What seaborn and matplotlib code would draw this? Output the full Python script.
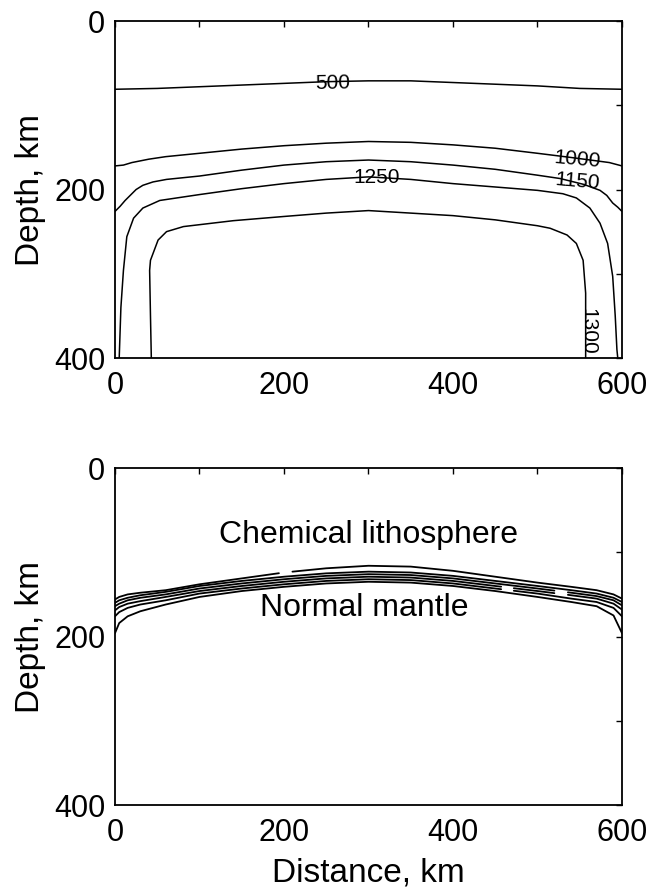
import numpy as np
import pandas as pd
import matplotlib
matplotlib.use("Agg")
import matplotlib.pyplot as plt
import seaborn as sns
from matplotlib.ticker import FuncFormatter

# ---------------- data: top panel (temperature contours, depth in km) -------------
c500_x = [0, 50, 100, 150, 200, 250, 300, 350, 400, 450, 500, 550, 600]
c500_d = [81, 80, 78, 76, 74, 72, 71, 71, 73, 75, 77, 80, 81]

c1000_x = [0, 10, 20, 40, 60, 100, 150, 200, 250, 300, 350, 400, 450, 500, 540, 570, 585, 600]
c1000_d = [172, 171, 168, 164, 161, 157, 152, 148, 145, 143, 144, 147, 151, 157, 162, 166, 168, 172]

c1150_x = [0, 6, 12, 18, 25, 33, 45, 61, 100, 150, 200, 250, 300, 350, 400, 450, 500, 527, 555, 574, 582, 589, 595, 600]
c1150_d = [226, 220, 213, 207, 200, 195, 191, 188, 184, 177, 171, 167, 165, 167, 171, 176, 183, 187, 194, 201, 207, 216, 221, 226]

c1250_x = [5, 7, 10, 14, 22, 33, 53, 100, 150, 200, 250, 300, 350, 400, 450, 500, 530, 546, 562, 574, 583, 589, 592, 594, 595]
c1250_d = [400, 340, 296, 256, 234, 222, 213, 206, 199, 193, 188, 185, 188, 193, 197, 201, 205, 210, 222, 240, 264, 303, 350, 390, 400]

c1300_x = [43, 42, 41, 42, 45, 51, 61, 81, 140, 200, 250, 300, 350, 400, 450, 500, 515, 535, 546, 554, 557, 557, 557]
c1300_d = [400, 350, 296, 284, 276, 260, 250, 244, 237, 232, 228, 225, 228, 231, 236, 243, 246, 254, 264, 284, 323, 360, 400]

top_levels = ["500", "1000", "1150", "1250", "1300"]

# ---------------- data: bottom panel (composition contours) -----------------------
comp_x = [0, 5, 15, 30, 60, 100, 150, 200, 250, 300, 350, 400, 450, 500, 540, 570, 590, 600]
comp_1 = [156, 153, 150, 148, 145, 138, 131, 124, 119, 116, 117, 122, 129, 136, 141, 145, 150, 155]
comp_2 = [160, 157, 154, 151, 147, 140, 134, 129, 125, 123, 124, 128, 134, 140, 145, 149, 154, 159]
comp_3 = [164, 161, 157, 154, 150, 143, 137, 132, 128, 126, 127, 131, 137, 143, 148, 152, 157, 163]
comp_4 = [169, 165, 161, 158, 153, 146, 140, 135, 131, 129, 130, 134, 140, 146, 151, 155, 161, 168]
comp_5 = [176, 171, 166, 162, 157, 149, 143, 138, 134, 132, 133, 137, 143, 149, 155, 159, 166, 176]
comp_6 = [196, 184, 176, 170, 162, 153, 146, 141, 137, 135, 136, 140, 146, 153, 159, 164, 175, 196]

# gaps left in the composition contours where labels were removed: (line, x from, x to)
gap_line = [0, 3, 4, 2, 3]
gap_from = [194, 457, 457, 520, 520]
gap_to = [210, 472, 472, 536, 536]

x_ticks = [0, 100, 200, 300, 400, 500, 600]
y_ticks = [0, 100, 200, 300, 400]

# ---------------- styling ----------------
sns.set_theme(style="white")
plt.rcParams["font.family"] = ["Liberation Sans", "DejaVu Sans"]
plt.rcParams["axes.linewidth"] = 1.3

fig = plt.figure(figsize=(6.5, 8.91), dpi=100)
ax1 = fig.add_axes([0.1769, 0.5982, 0.7800, 0.3782])
ax2 = fig.add_axes([0.1769, 0.0965, 0.7800, 0.3782])


def build_df(xs_list, ds_list, names):
    frames = []
    for xs, ds, n in zip(xs_list, ds_list, names):
        frames.append(pd.DataFrame({"x": xs, "d": ds, "line": n}))
    return pd.concat(frames, ignore_index=True)


def split_at_gaps(xs, ds, gaps):
    """Cut one polyline into pieces, leaving out the x ranges in gaps."""
    xs = np.asarray(xs, float)
    ds = np.asarray(ds, float)
    pieces = []
    start = xs[0]
    bounds = sorted(gaps) + [(xs[-1] + 1, xs[-1] + 1)]
    for g0, g1 in bounds:
        end = min(g0, xs[-1])
        inner = (xs > start) & (xs < end)
        px = np.concatenate([[start], xs[inner], [end]])
        pd_ = np.interp(px, xs, ds)
        pieces.append((px, pd_))
        start = g1
    return pieces


top_df = build_df([c500_x, c1000_x, c1150_x, c1250_x, c1300_x],
                  [c500_d, c1000_d, c1150_d, c1250_d, c1300_d], top_levels)

for name, g in top_df.groupby("line", sort=False):
    sns.lineplot(data=g, x="x", y="d", sort=False, estimator=None, color="black",
                 lw=1.1, ax=ax1, legend=False)

comp_lines = [comp_1, comp_2, comp_3, comp_4, comp_5, comp_6]
for i, ds in enumerate(comp_lines):
    gaps = [(a, b) for l, a, b in zip(gap_line, gap_from, gap_to) if l == i]
    for k, (px, pdd) in enumerate(split_at_gaps(comp_x, ds, gaps)):
        seg = pd.DataFrame({"x": px, "d": pdd})
        sns.lineplot(data=seg, x="x", y="d", sort=False, estimator=None,
                     color="black", lw=1.3, ax=ax2, legend=False)

# contour labels
lab_kw = dict(fontsize=15, color="black", ha="center", va="center")
ax1.text(258, 74, "500", rotation=1, **lab_kw)
ax1.text(547, 165, "1000", rotation=-5, **lab_kw)
ax1.text(547, 191, "1150", rotation=-5, **lab_kw)
ax1.text(310, 186, "1250", rotation=0, **lab_kw)
ax1.text(560, 368, "1300", rotation=-90, **lab_kw)

# region labels
ax2.text(300, 80, "Chemical lithosphere", fontsize=23, color="black", ha="center", va="center")
ax2.text(295, 166, "Normal mantle", fontsize=23, color="black", ha="center", va="center")


def lab_every_other(v, pos):
    return f"{int(round(v))}" if int(round(v)) % 200 == 0 else ""


for ax in (ax1, ax2):
    ax.set_xlim(0, 600)
    ax.set_ylim(400, 0)
    ax.set_xticks(x_ticks)
    ax.set_yticks(y_ticks)
    ax.xaxis.set_major_formatter(FuncFormatter(lab_every_other))
    ax.yaxis.set_major_formatter(FuncFormatter(lab_every_other))
    ax.tick_params(direction="in", length=4, width=1.0, top=True, right=True,
                   labelsize=22, colors="black", pad=7)
    ax.tick_params(axis="x", pad=9)
    for s in ax.spines.values():
        s.set_color("black")
        s.set_linewidth(1.3)
    ax.set_ylabel("Depth, km", fontsize=24, color="black", labelpad=6)
    ax.set_xlabel("")
    ax.grid(False)

ax2.set_xlabel("Distance, km", fontsize=24, color="black", labelpad=7)

fig.savefig("out.png", dpi=100)
